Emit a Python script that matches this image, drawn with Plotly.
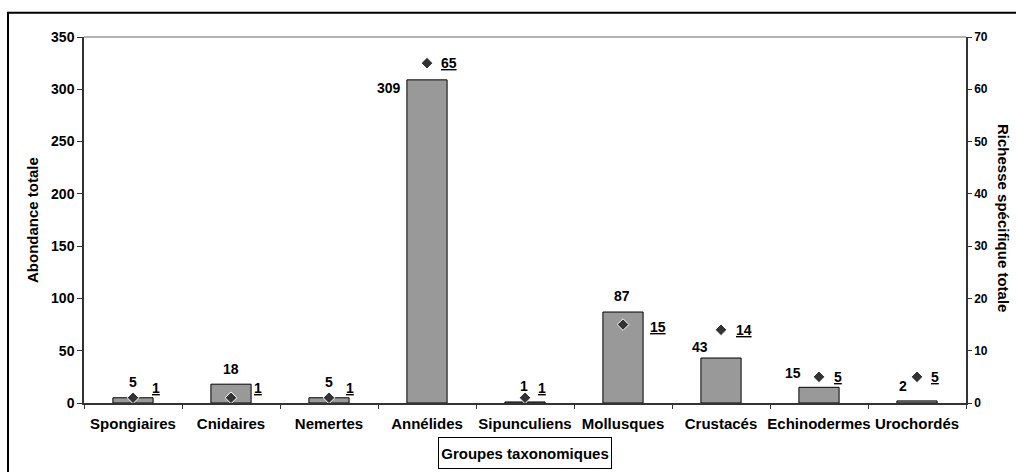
import plotly.graph_objects as go

categories = ["Spongiaires", "Cnidaires", "Nemertes", "Annélides", "Sipunculiens",
              "Mollusques", "Crustacés", "Echinodermes", "Urochordés"]
abondance = [5, 18, 5, 309, 1, 87, 43, 15, 2]
richesse = [1, 1, 1, 65, 1, 15, 14, 5, 5]

# label placement (pixels), styling only
ab_dx = [0, 0, 0, -38, -1, -1, -21, -26, -14]
ab_dy = [16, 15, 16, -8, 16, 16, 11, 14, 15]
ri_dx = [17, 21, 15, 12, 11, 25, 13, 13, 12]
ri_dy = [10, 10, 10, 0, 10, -2, 0, 0, 0]

FONT = "Arial, Liberation Sans, sans-serif"
W, H = 1016, 472
L, R, T, B = 84, 966, 37, 403

fig = go.Figure()
fig.add_trace(go.Bar(
    x=categories, y=abondance, width=0.41,
    marker=dict(color="#999999", line=dict(color="#000000", width=1)),
    showlegend=False, hoverinfo="skip"))
fig.add_trace(go.Scatter(
    x=categories, y=richesse, yaxis="y2", mode="markers",
    marker=dict(symbol="diamond", size=9, color="#333333",
                line=dict(color="#ffffff", width=1)),
    showlegend=False, hoverinfo="skip"))

ann = []
for c, v, dx, dy in zip(categories, abondance, ab_dx, ab_dy):
    ann.append(dict(x=c, y=v, xref="x", yref="y", text=f"<b>{v}</b>",
                    showarrow=False, xanchor="center", yanchor="middle",
                    xshift=dx, yshift=dy,
                    font=dict(family=FONT, size=14, color="#000")))
for c, v, dx, dy in zip(categories, richesse, ri_dx, ri_dy):
    ann.append(dict(x=c, y=v, xref="x", yref="y2", text=f"<b><u>{v}</u></b>",
                    showarrow=False, xanchor="left", yanchor="middle",
                    xshift=dx, yshift=dy,
                    font=dict(family=FONT, size=14, color="#000")))

pw, ph = R - L, B - T
def px(x): return (x - L) / pw
def py(y): return (B - y) / ph

ann.append(dict(x=px(32), y=py(220), xref="paper", yref="paper",
                text="<b>Abondance totale</b>", textangle=-90, showarrow=False,
                xanchor="center", yanchor="middle",
                font=dict(family=FONT, size=15, color="#000")))
ann.append(dict(x=px(1004), y=py(218), xref="paper", yref="paper",
                text="<b>Richesse spécifique totale</b>", textangle=90, showarrow=False,
                xanchor="center", yanchor="middle",
                font=dict(family=FONT, size=15, color="#000")))
ann.append(dict(x=0.5, y=py(452.5), xref="paper", yref="paper",
                text="<b>Groupes taxonomiques</b>", showarrow=False,
                xanchor="center", yanchor="middle", width=168, height=26,
                borderpad=2, bordercolor="#000", borderwidth=1, bgcolor="#fff",
                font=dict(family=FONT, size=15, color="#000")))

shapes = [
    dict(type="line", xref="paper", yref="paper", x0=0, x1=1, y0=1, y1=1,
         line=dict(color="#999999", width=1.5), layer="below"),
    dict(type="rect", xref="paper", yref="paper",
         x0=px(8), x1=px(1030), y0=py(490), y1=py(12.7),
         line=dict(color="#000", width=2)),
]

fig.update_layout(
    template="none",
    width=W, height=H, margin=dict(l=L, r=W - R, t=T, b=H - B, pad=0),
    paper_bgcolor="#fff", plot_bgcolor="#fff",
    font=dict(family=FONT, size=14, color="#000"),
    xaxis=dict(type="category", tickson="boundaries", ticks="outside", ticklen=4,
               tickcolor="#333", linecolor="#333", linewidth=1.5, showgrid=False,
               tickangle=0, automargin=False, ticklabelstandoff=6,
               tickfont=dict(family=FONT, size=15, color="#000", weight="bold"),
               range=[-0.5, 8.5]),
    yaxis=dict(range=[0, 350], dtick=50, ticks="outside", ticklen=5, tickcolor="#333",
               linecolor="#333", linewidth=1.5, showgrid=False, zeroline=False,
               automargin=False,
               tickfont=dict(family=FONT, size=14, color="#000", weight="bold")),
    yaxis2=dict(range=[0, 70], dtick=10, overlaying="y", side="right",
                ticks="outside", ticklen=4, tickcolor="#333", automargin=False,
                linecolor="#333", linewidth=1.5, showgrid=False, zeroline=False,
                tickfont=dict(family=FONT, size=12, color="#000", weight="bold")),
    annotations=ann, shapes=shapes,
)

fig.write_html("out.html", config={"displayModeBar": False},
               post_script="document.body.style.margin='0px';document.body.style.overflow='hidden';")
